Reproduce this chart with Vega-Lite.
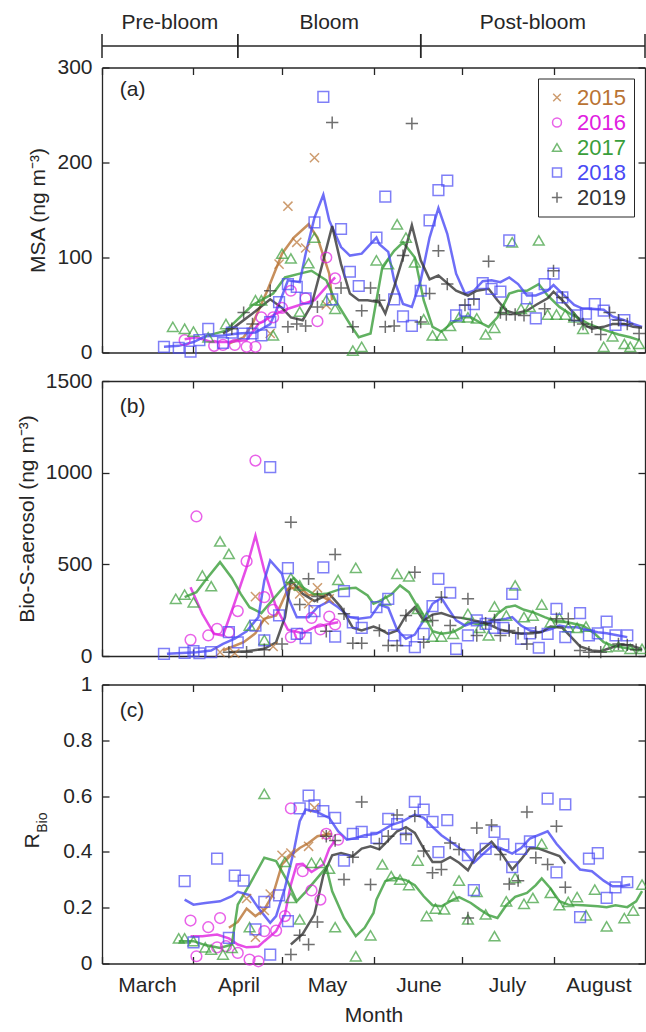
{
  "$schema": "https://vega.github.io/schema/vega-lite/v6.json",
  "background": "white",
  "padding": {"left": 16, "top": 5, "right": 1, "bottom": 3},
  "bounds": "flush",
  "spacing": 28.5,
  "config": {
    "font": "Liberation Sans",
    "view": {"stroke": null},
    "axis": {
      "grid": false,
      "domainColor": "#262626",
      "domainWidth": 1.3,
      "tickColor": "#262626",
      "tickWidth": 1.3,
      "tickSize": -7,
      "labelFont": "Liberation Sans",
      "labelFontSize": 21,
      "labelColor": "#262626",
      "labelPadding": 17,
      "titleFont": "Liberation Sans",
      "titleFontSize": 21,
      "titleFontWeight": "normal",
      "titleColor": "#262626",
      "titlePadding": 8
    },
    "text": {"font": "Liberation Sans", "color": "#262626"}
  },
  "resolve": {
    "scale": {"x": "independent", "y": "independent", "color": "shared", "shape": "shared", "stroke": "shared"},
    "legend": {"color": "independent", "shape": "independent"}
  },
  "datasets": {
    "msa_obs": [
      {"year":2015,"date":"2015/04/27","value":20},{"year":2015,"date":"2015/04/30","value":93},{"year":2015,"date":"2015/05/03","value":154},{"year":2015,"date":"2015/05/06","value":116},{"year":2015,"date":"2015/05/09","value":110},{"year":2015,"date":"2015/05/12","value":205},{"year":2015,"date":"2015/05/16","value":50},
      {"year":2016,"date":"2016/03/29","value":13},{"year":2016,"date":"2016/04/08","value":7},{"year":2016,"date":"2016/04/11","value":8},{"year":2016,"date":"2016/04/15","value":8},{"year":2016,"date":"2016/04/19","value":6},{"year":2016,"date":"2016/04/22","value":6},{"year":2016,"date":"2016/04/24","value":37},{"year":2016,"date":"2016/04/28","value":37},{"year":2016,"date":"2016/05/01","value":47},{"year":2016,"date":"2016/05/04","value":65},{"year":2016,"date":"2016/05/09","value":57},{"year":2016,"date":"2016/05/13","value":33},{"year":2016,"date":"2016/05/16","value":100},{"year":2016,"date":"2016/05/19","value":78},
      {"year":2017,"date":"2017/03/25","value":27},{"year":2017,"date":"2017/03/29","value":25},{"year":2017,"date":"2017/04/01","value":22},{"year":2017,"date":"2017/04/06","value":16},{"year":2017,"date":"2017/04/12","value":30},{"year":2017,"date":"2017/04/22","value":55},{"year":2017,"date":"2017/04/24","value":55},{"year":2017,"date":"2017/04/28","value":18},{"year":2017,"date":"2017/05/01","value":104},{"year":2017,"date":"2017/05/04","value":99},{"year":2017,"date":"2017/05/07","value":43},{"year":2017,"date":"2017/05/10","value":94},{"year":2017,"date":"2017/05/12","value":121},{"year":2017,"date":"2017/05/16","value":55},{"year":2017,"date":"2017/05/19","value":46},{"year":2017,"date":"2017/05/25","value":2},{"year":2017,"date":"2017/05/28","value":6},{"year":2017,"date":"2017/06/02","value":97},{"year":2017,"date":"2017/06/06","value":93},{"year":2017,"date":"2017/06/09","value":135},{"year":2017,"date":"2017/06/12","value":121},{"year":2017,"date":"2017/06/15","value":95},{"year":2017,"date":"2017/06/18","value":35},{"year":2017,"date":"2017/06/21","value":18},{"year":2017,"date":"2017/06/24","value":18},{"year":2017,"date":"2017/06/27","value":28},{"year":2017,"date":"2017/06/30","value":37},{"year":2017,"date":"2017/07/03","value":37},{"year":2017,"date":"2017/07/06","value":36},{"year":2017,"date":"2017/07/09","value":19},{"year":2017,"date":"2017/07/12","value":26},{"year":2017,"date":"2017/07/15","value":46},{"year":2017,"date":"2017/07/18","value":116},{"year":2017,"date":"2017/07/21","value":46},{"year":2017,"date":"2017/07/24","value":48},{"year":2017,"date":"2017/07/27","value":118},{"year":2017,"date":"2017/07/30","value":40},{"year":2017,"date":"2017/08/02","value":40},{"year":2017,"date":"2017/08/05","value":40},{"year":2017,"date":"2017/08/08","value":37},{"year":2017,"date":"2017/08/11","value":25},{"year":2017,"date":"2017/08/18","value":6},{"year":2017,"date":"2017/08/21","value":17},{"year":2017,"date":"2017/08/25","value":9},{"year":2017,"date":"2017/08/27","value":6},{"year":2017,"date":"2017/08/30","value":9},
      {"year":2018,"date":"2018/03/22","value":6},{"year":2018,"date":"2018/03/27","value":5},{"year":2018,"date":"2018/03/31","value":1},{"year":2018,"date":"2018/04/03","value":13},{"year":2018,"date":"2018/04/06","value":25},{"year":2018,"date":"2018/04/11","value":10},{"year":2018,"date":"2018/04/14","value":21},{"year":2018,"date":"2018/04/18","value":20},{"year":2018,"date":"2018/04/21","value":20},{"year":2018,"date":"2018/04/24","value":18},{"year":2018,"date":"2018/04/27","value":32},{"year":2018,"date":"2018/04/30","value":53},{"year":2018,"date":"2018/05/03","value":72},{"year":2018,"date":"2018/05/06","value":69},{"year":2018,"date":"2018/05/09","value":57},{"year":2018,"date":"2018/05/12","value":137},{"year":2018,"date":"2018/05/15","value":269},{"year":2018,"date":"2018/05/18","value":56},{"year":2018,"date":"2018/05/21","value":130},{"year":2018,"date":"2018/05/24","value":85},{"year":2018,"date":"2018/05/27","value":70},{"year":2018,"date":"2018/06/02","value":121},{"year":2018,"date":"2018/06/05","value":164},{"year":2018,"date":"2018/06/08","value":56},{"year":2018,"date":"2018/06/11","value":38},{"year":2018,"date":"2018/06/14","value":28},{"year":2018,"date":"2018/06/17","value":65},{"year":2018,"date":"2018/06/20","value":139},{"year":2018,"date":"2018/06/23","value":171},{"year":2018,"date":"2018/06/26","value":181},{"year":2018,"date":"2018/06/29","value":39},{"year":2018,"date":"2018/07/02","value":44},{"year":2018,"date":"2018/07/05","value":51},{"year":2018,"date":"2018/07/08","value":73},{"year":2018,"date":"2018/07/11","value":67},{"year":2018,"date":"2018/07/14","value":64},{"year":2018,"date":"2018/07/17","value":118},{"year":2018,"date":"2018/07/23","value":57},{"year":2018,"date":"2018/07/26","value":36},{"year":2018,"date":"2018/07/29","value":72},{"year":2018,"date":"2018/08/01","value":83},{"year":2018,"date":"2018/08/04","value":58},{"year":2018,"date":"2018/08/09","value":39},{"year":2018,"date":"2018/08/12","value":41},{"year":2018,"date":"2018/08/15","value":51},{"year":2018,"date":"2018/08/18","value":44},{"year":2018,"date":"2018/08/22","value":29},{"year":2018,"date":"2018/08/25","value":34},
      {"year":2019,"date":"2019/04/14","value":25},{"year":2019,"date":"2019/04/18","value":42},{"year":2019,"date":"2019/04/21","value":30},{"year":2019,"date":"2019/04/27","value":65},{"year":2019,"date":"2019/05/03","value":27},{"year":2019,"date":"2019/05/06","value":30},{"year":2019,"date":"2019/05/09","value":28},{"year":2019,"date":"2019/05/13","value":48},{"year":2019,"date":"2019/05/18","value":242},{"year":2019,"date":"2019/05/21","value":68},{"year":2019,"date":"2019/05/25","value":27},{"year":2019,"date":"2019/05/28","value":44},{"year":2019,"date":"2019/05/31","value":68},{"year":2019,"date":"2019/06/03","value":55},{"year":2019,"date":"2019/06/05","value":27},{"year":2019,"date":"2019/06/08","value":28},{"year":2019,"date":"2019/06/11","value":102},{"year":2019,"date":"2019/06/14","value":241},{"year":2019,"date":"2019/06/17","value":32},{"year":2019,"date":"2019/06/20","value":62},{"year":2019,"date":"2019/06/23","value":107},{"year":2019,"date":"2019/06/26","value":72},{"year":2019,"date":"2019/07/02","value":50},{"year":2019,"date":"2019/07/05","value":56},{"year":2019,"date":"2019/07/10","value":96},{"year":2019,"date":"2019/07/14","value":42},{"year":2019,"date":"2019/07/16","value":40},{"year":2019,"date":"2019/07/19","value":40},{"year":2019,"date":"2019/07/22","value":39},{"year":2019,"date":"2019/07/29","value":46},{"year":2019,"date":"2019/08/01","value":86},{"year":2019,"date":"2019/08/04","value":58},{"year":2019,"date":"2019/08/08","value":34},{"year":2019,"date":"2019/08/11","value":30},{"year":2019,"date":"2019/08/14","value":27},{"year":2019,"date":"2019/08/17","value":19},{"year":2019,"date":"2019/08/20","value":42},{"year":2019,"date":"2019/08/23","value":34},{"year":2019,"date":"2019/08/26","value":30},{"year":2019,"date":"2019/08/30","value":20}
    ],
    "msa_mean": [
      {"year":2015,"date":"2015/04/13","value":9.5},{"year":2015,"date":"2015/04/18","value":16},{"year":2015,"date":"2015/04/21","value":30},{"year":2015,"date":"2015/04/26","value":65},{"year":2015,"date":"2015/05/01","value":104},{"year":2015,"date":"2015/05/05","value":121},{"year":2015,"date":"2015/05/10","value":135},{"year":2015,"date":"2015/05/13","value":121},{"year":2015,"date":"2015/05/17","value":83},{"year":2015,"date":"2015/05/18","value":55},
      {"year":2016,"date":"2016/03/29","value":14},{"year":2016,"date":"2016/04/02","value":16},{"year":2016,"date":"2016/04/07","value":11},{"year":2016,"date":"2016/04/13","value":11},{"year":2016,"date":"2016/04/19","value":13},{"year":2016,"date":"2016/04/23","value":30},{"year":2016,"date":"2016/04/29","value":41},{"year":2016,"date":"2016/05/03","value":46},{"year":2016,"date":"2016/05/08","value":51},{"year":2016,"date":"2016/05/12","value":55},{"year":2016,"date":"2016/05/16","value":69},{"year":2016,"date":"2016/05/19","value":79},
      {"year":2017,"date":"2017/04/06","value":18},{"year":2017,"date":"2017/04/12","value":23},{"year":2017,"date":"2017/04/21","value":50},{"year":2017,"date":"2017/04/28","value":62},{"year":2017,"date":"2017/05/02","value":79},{"year":2017,"date":"2017/05/07","value":83},{"year":2017,"date":"2017/05/11","value":86},{"year":2017,"date":"2017/05/16","value":76},{"year":2017,"date":"2017/05/19","value":55},{"year":2017,"date":"2017/05/24","value":30},{"year":2017,"date":"2017/05/27","value":16},{"year":2017,"date":"2017/05/31","value":20},{"year":2017,"date":"2017/06/04","value":90},{"year":2017,"date":"2017/06/08","value":107},{"year":2017,"date":"2017/06/11","value":116},{"year":2017,"date":"2017/06/15","value":100},{"year":2017,"date":"2017/06/18","value":55},{"year":2017,"date":"2017/06/21","value":27},{"year":2017,"date":"2017/06/24","value":22},{"year":2017,"date":"2017/06/28","value":32},{"year":2017,"date":"2017/07/01","value":37},{"year":2017,"date":"2017/07/04","value":37},{"year":2017,"date":"2017/07/08","value":30},{"year":2017,"date":"2017/07/10","value":27},{"year":2017,"date":"2017/07/13","value":37},{"year":2017,"date":"2017/07/17","value":62},{"year":2017,"date":"2017/07/20","value":65},{"year":2017,"date":"2017/07/23","value":65},{"year":2017,"date":"2017/07/27","value":72},{"year":2017,"date":"2017/07/30","value":60},{"year":2017,"date":"2017/08/03","value":48},{"year":2017,"date":"2017/08/06","value":42},{"year":2017,"date":"2017/08/09","value":37},{"year":2017,"date":"2017/08/13","value":30},{"year":2017,"date":"2017/08/17","value":25},{"year":2017,"date":"2017/08/20","value":22},{"year":2017,"date":"2017/08/23","value":19},{"year":2017,"date":"2017/08/27","value":16},{"year":2017,"date":"2017/08/30","value":13},
      {"year":2018,"date":"2018/03/22","value":6},{"year":2018,"date":"2018/03/27","value":7},{"year":2018,"date":"2018/04/01","value":11},{"year":2018,"date":"2018/04/05","value":17},{"year":2018,"date":"2018/04/11","value":18},{"year":2018,"date":"2018/04/16","value":20},{"year":2018,"date":"2018/04/22","value":21},{"year":2018,"date":"2018/04/27","value":30},{"year":2018,"date":"2018/04/30","value":51},{"year":2018,"date":"2018/05/03","value":76},{"year":2018,"date":"2018/05/07","value":74},{"year":2018,"date":"2018/05/09","value":104},{"year":2018,"date":"2018/05/12","value":142},{"year":2018,"date":"2018/05/15","value":166},{"year":2018,"date":"2018/05/17","value":139},{"year":2018,"date":"2018/05/21","value":111},{"year":2018,"date":"2018/05/24","value":102},{"year":2018,"date":"2018/05/28","value":104},{"year":2018,"date":"2018/06/02","value":121},{"year":2018,"date":"2018/06/03","value":114},{"year":2018,"date":"2018/06/06","value":106},{"year":2018,"date":"2018/06/08","value":76},{"year":2018,"date":"2018/06/11","value":51},{"year":2018,"date":"2018/06/14","value":48},{"year":2018,"date":"2018/06/17","value":76},{"year":2018,"date":"2018/06/20","value":121},{"year":2018,"date":"2018/06/23","value":152},{"year":2018,"date":"2018/06/26","value":125},{"year":2018,"date":"2018/06/29","value":83},{"year":2018,"date":"2018/07/02","value":62},{"year":2018,"date":"2018/07/05","value":65},{"year":2018,"date":"2018/07/08","value":75},{"year":2018,"date":"2018/07/11","value":76},{"year":2018,"date":"2018/07/14","value":74},{"year":2018,"date":"2018/07/17","value":79},{"year":2018,"date":"2018/07/20","value":72},{"year":2018,"date":"2018/07/23","value":60},{"year":2018,"date":"2018/07/26","value":60},{"year":2018,"date":"2018/07/30","value":65},{"year":2018,"date":"2018/08/01","value":71},{"year":2018,"date":"2018/08/04","value":62},{"year":2018,"date":"2018/08/08","value":50},{"year":2018,"date":"2018/08/11","value":46},{"year":2018,"date":"2018/08/14","value":46},{"year":2018,"date":"2018/08/18","value":45},{"year":2018,"date":"2018/08/21","value":38},{"year":2018,"date":"2018/08/25","value":34},{"year":2018,"date":"2018/08/28","value":30},{"year":2018,"date":"2018/08/31","value":27},
      {"year":2019,"date":"2019/04/11","value":20},{"year":2019,"date":"2019/04/15","value":27},{"year":2019,"date":"2019/04/21","value":41},{"year":2019,"date":"2019/04/27","value":56},{"year":2019,"date":"2019/05/01","value":47},{"year":2019,"date":"2019/05/04","value":37},{"year":2019,"date":"2019/05/08","value":34},{"year":2019,"date":"2019/05/11","value":50},{"year":2019,"date":"2019/05/15","value":97},{"year":2019,"date":"2019/05/18","value":133},{"year":2019,"date":"2019/05/21","value":93},{"year":2019,"date":"2019/05/24","value":62},{"year":2019,"date":"2019/05/27","value":55},{"year":2019,"date":"2019/05/30","value":55},{"year":2019,"date":"2019/06/03","value":53},{"year":2019,"date":"2019/06/05","value":41},{"year":2019,"date":"2019/06/08","value":69},{"year":2019,"date":"2019/06/11","value":100},{"year":2019,"date":"2019/06/14","value":134},{"year":2019,"date":"2019/06/17","value":97},{"year":2019,"date":"2019/06/20","value":77},{"year":2019,"date":"2019/06/23","value":81},{"year":2019,"date":"2019/06/26","value":73},{"year":2019,"date":"2019/06/29","value":65},{"year":2019,"date":"2019/07/03","value":60},{"year":2019,"date":"2019/07/06","value":65},{"year":2019,"date":"2019/07/10","value":67},{"year":2019,"date":"2019/07/13","value":55},{"year":2019,"date":"2019/07/16","value":44},{"year":2019,"date":"2019/07/19","value":41},{"year":2019,"date":"2019/07/23","value":44},{"year":2019,"date":"2019/07/26","value":50},{"year":2019,"date":"2019/07/30","value":57},{"year":2019,"date":"2019/08/01","value":64},{"year":2019,"date":"2019/08/04","value":55},{"year":2019,"date":"2019/08/08","value":41},{"year":2019,"date":"2019/08/11","value":30},{"year":2019,"date":"2019/08/14","value":25},{"year":2019,"date":"2019/08/18","value":27},{"year":2019,"date":"2019/08/21","value":30},{"year":2019,"date":"2019/08/25","value":30},{"year":2019,"date":"2019/08/28","value":27},{"year":2019,"date":"2019/08/31","value":26}
    ],
    "bio_obs": [
      {"year":2015,"date":"2015/04/10","value":21},{"year":2015,"date":"2015/04/15","value":15},{"year":2015,"date":"2015/04/22","value":324},{"year":2015,"date":"2015/04/25","value":197},{"year":2015,"date":"2015/04/28","value":52},{"year":2015,"date":"2015/05/04","value":379},{"year":2015,"date":"2015/05/07","value":339},{"year":2015,"date":"2015/05/10","value":285},{"year":2015,"date":"2015/05/13","value":372},{"year":2015,"date":"2015/05/17","value":312},
      {"year":2016,"date":"2016/03/31","value":88},{"year":2016,"date":"2016/04/02","value":761},{"year":2016,"date":"2016/04/06","value":112},{"year":2016,"date":"2016/04/09","value":148},{"year":2016,"date":"2016/04/13","value":130},{"year":2016,"date":"2016/04/16","value":245},{"year":2016,"date":"2016/04/19","value":517},{"year":2016,"date":"2016/04/22","value":1066},{"year":2016,"date":"2016/04/25","value":321},{"year":2016,"date":"2016/04/28","value":252},{"year":2016,"date":"2016/05/04","value":103},{"year":2016,"date":"2016/05/07","value":121},{"year":2016,"date":"2016/05/11","value":208},{"year":2016,"date":"2016/05/14","value":145},{"year":2016,"date":"2016/05/17","value":215},{"year":2016,"date":"2016/05/19","value":172},
      {"year":2017,"date":"2017/03/26","value":312},{"year":2017,"date":"2017/03/29","value":335},{"year":2017,"date":"2017/04/01","value":293},{"year":2017,"date":"2017/04/04","value":439},{"year":2017,"date":"2017/04/07","value":381},{"year":2017,"date":"2017/04/10","value":625},{"year":2017,"date":"2017/04/13","value":557},{"year":2017,"date":"2017/04/20","value":166},{"year":2017,"date":"2017/04/25","value":88},{"year":2017,"date":"2017/05/04","value":426},{"year":2017,"date":"2017/05/07","value":385},{"year":2017,"date":"2017/05/20","value":415},{"year":2017,"date":"2017/05/26","value":481},{"year":2017,"date":"2017/06/05","value":303},{"year":2017,"date":"2017/06/09","value":448},{"year":2017,"date":"2017/06/13","value":434},{"year":2017,"date":"2017/06/16","value":257},{"year":2017,"date":"2017/06/19","value":212},{"year":2017,"date":"2017/06/21","value":106},{"year":2017,"date":"2017/06/24","value":106},{"year":2017,"date":"2017/06/28","value":121},{"year":2017,"date":"2017/07/03","value":230},{"year":2017,"date":"2017/07/07","value":154},{"year":2017,"date":"2017/07/10","value":112},{"year":2017,"date":"2017/07/12","value":270},{"year":2017,"date":"2017/07/16","value":221},{"year":2017,"date":"2017/07/19","value":385},{"year":2017,"date":"2017/07/22","value":212},{"year":2017,"date":"2017/07/25","value":221},{"year":2017,"date":"2017/07/28","value":281},{"year":2017,"date":"2017/07/31","value":184},{"year":2017,"date":"2017/08/03","value":208},{"year":2017,"date":"2017/08/06","value":157},{"year":2017,"date":"2017/08/09","value":154},{"year":2017,"date":"2017/08/12","value":161},{"year":2017,"date":"2017/08/19","value":48},{"year":2017,"date":"2017/08/23","value":52},{"year":2017,"date":"2017/08/27","value":39},{"year":2017,"date":"2017/08/31","value":39},
      {"year":2018,"date":"2018/03/22","value":12},{"year":2018,"date":"2018/03/29","value":17},{"year":2018,"date":"2018/04/01","value":26},{"year":2018,"date":"2018/04/03","value":15},{"year":2018,"date":"2018/04/07","value":21},{"year":2018,"date":"2018/04/13","value":130},{"year":2018,"date":"2018/04/16","value":74},{"year":2018,"date":"2018/04/22","value":166},{"year":2018,"date":"2018/04/25","value":85},{"year":2018,"date":"2018/04/27","value":1030},{"year":2018,"date":"2018/04/30","value":221},{"year":2018,"date":"2018/05/03","value":479},{"year":2018,"date":"2018/05/06","value":121},{"year":2018,"date":"2018/05/09","value":97},{"year":2018,"date":"2018/05/12","value":245},{"year":2018,"date":"2018/05/15","value":484},{"year":2018,"date":"2018/05/19","value":106},{"year":2018,"date":"2018/05/22","value":354},{"year":2018,"date":"2018/05/25","value":184},{"year":2018,"date":"2018/05/28","value":154},{"year":2018,"date":"2018/06/02","value":266},{"year":2018,"date":"2018/06/06","value":312},{"year":2018,"date":"2018/06/08","value":112},{"year":2018,"date":"2018/06/12","value":85},{"year":2018,"date":"2018/06/15","value":48},{"year":2018,"date":"2018/06/18","value":121},{"year":2018,"date":"2018/06/21","value":272},{"year":2018,"date":"2018/06/23","value":421},{"year":2018,"date":"2018/06/27","value":345},{"year":2018,"date":"2018/06/29","value":39},{"year":2018,"date":"2018/07/03","value":112},{"year":2018,"date":"2018/07/06","value":194},{"year":2018,"date":"2018/07/09","value":175},{"year":2018,"date":"2018/07/12","value":154},{"year":2018,"date":"2018/07/15","value":154},{"year":2018,"date":"2018/07/18","value":339},{"year":2018,"date":"2018/07/21","value":94},{"year":2018,"date":"2018/07/24","value":124},{"year":2018,"date":"2018/07/27","value":45},{"year":2018,"date":"2018/07/30","value":121},{"year":2018,"date":"2018/08/02","value":257},{"year":2018,"date":"2018/08/05","value":103},{"year":2018,"date":"2018/08/10","value":234},{"year":2018,"date":"2018/08/13","value":112},{"year":2018,"date":"2018/08/16","value":124},{"year":2018,"date":"2018/08/19","value":188},{"year":2018,"date":"2018/08/22","value":112},{"year":2018,"date":"2018/08/26","value":112},
      {"year":2019,"date":"2019/04/13","value":21},{"year":2019,"date":"2019/04/19","value":21},{"year":2019,"date":"2019/04/25","value":34},{"year":2019,"date":"2019/05/01","value":66},{"year":2019,"date":"2019/05/04","value":730},{"year":2019,"date":"2019/05/07","value":281},{"year":2019,"date":"2019/05/10","value":421},{"year":2019,"date":"2019/05/13","value":324},{"year":2019,"date":"2019/05/16","value":135},{"year":2019,"date":"2019/05/19","value":554},{"year":2019,"date":"2019/05/22","value":230},{"year":2019,"date":"2019/05/25","value":70},{"year":2019,"date":"2019/05/28","value":70},{"year":2019,"date":"2019/06/03","value":139},{"year":2019,"date":"2019/06/06","value":57},{"year":2019,"date":"2019/06/09","value":57},{"year":2019,"date":"2019/06/12","value":221},{"year":2019,"date":"2019/06/15","value":457},{"year":2019,"date":"2019/06/18","value":75},{"year":2019,"date":"2019/06/21","value":194},{"year":2019,"date":"2019/06/24","value":321},{"year":2019,"date":"2019/06/27","value":166},{"year":2019,"date":"2019/07/03","value":312},{"year":2019,"date":"2019/07/06","value":112},{"year":2019,"date":"2019/07/09","value":179},{"year":2019,"date":"2019/07/12","value":197},{"year":2019,"date":"2019/07/14","value":112},{"year":2019,"date":"2019/07/17","value":139},{"year":2019,"date":"2019/07/20","value":124},{"year":2019,"date":"2019/07/23","value":66},{"year":2019,"date":"2019/07/26","value":130},{"year":2019,"date":"2019/08/02","value":203},{"year":2019,"date":"2019/08/06","value":203},{"year":2019,"date":"2019/08/10","value":30},{"year":2019,"date":"2019/08/13","value":21},{"year":2019,"date":"2019/08/17","value":21},{"year":2019,"date":"2019/08/23","value":66},{"year":2019,"date":"2019/08/26","value":61},{"year":2019,"date":"2019/08/29","value":34}
    ],
    "bio_mean": [
      {"year":2015,"date":"2015/04/11","value":30},{"year":2015,"date":"2015/04/18","value":75},{"year":2015,"date":"2015/04/22","value":124},{"year":2015,"date":"2015/04/25","value":203},{"year":2015,"date":"2015/04/29","value":221},{"year":2015,"date":"2015/05/03","value":366},{"year":2015,"date":"2015/05/07","value":379},{"year":2015,"date":"2015/05/10","value":330},{"year":2015,"date":"2015/05/13","value":339},{"year":2015,"date":"2015/05/17","value":303},
      {"year":2016,"date":"2016/03/31","value":375},{"year":2016,"date":"2016/04/04","value":230},{"year":2016,"date":"2016/04/08","value":121},{"year":2016,"date":"2016/04/11","value":112},{"year":2016,"date":"2016/04/15","value":293},{"year":2016,"date":"2016/04/19","value":484},{"year":2016,"date":"2016/04/22","value":657},{"year":2016,"date":"2016/04/25","value":466},{"year":2016,"date":"2016/04/29","value":266},{"year":2016,"date":"2016/05/03","value":143},{"year":2016,"date":"2016/05/08","value":124},{"year":2016,"date":"2016/05/12","value":157},{"year":2016,"date":"2016/05/17","value":175},{"year":2016,"date":"2016/05/20","value":184},
      {"year":2017,"date":"2017/03/29","value":321},{"year":2017,"date":"2017/04/02","value":348},{"year":2017,"date":"2017/04/05","value":412},{"year":2017,"date":"2017/04/10","value":512},{"year":2017,"date":"2017/04/14","value":426},{"year":2017,"date":"2017/04/17","value":339},{"year":2017,"date":"2017/04/20","value":266},{"year":2017,"date":"2017/04/24","value":234},{"year":2017,"date":"2017/05/01","value":366},{"year":2017,"date":"2017/05/05","value":426},{"year":2017,"date":"2017/05/08","value":375},{"year":2017,"date":"2017/05/12","value":335},{"year":2017,"date":"2017/05/16","value":339},{"year":2017,"date":"2017/05/21","value":366},{"year":2017,"date":"2017/05/26","value":372},{"year":2017,"date":"2017/05/30","value":330},{"year":2017,"date":"2017/06/01","value":285},{"year":2017,"date":"2017/06/03","value":299},{"year":2017,"date":"2017/06/07","value":335},{"year":2017,"date":"2017/06/10","value":385},{"year":2017,"date":"2017/06/13","value":348},{"year":2017,"date":"2017/06/16","value":266},{"year":2017,"date":"2017/06/19","value":194},{"year":2017,"date":"2017/06/21","value":135},{"year":2017,"date":"2017/06/24","value":121},{"year":2017,"date":"2017/06/28","value":130},{"year":2017,"date":"2017/07/01","value":157},{"year":2017,"date":"2017/07/03","value":184},{"year":2017,"date":"2017/07/07","value":172},{"year":2017,"date":"2017/07/10","value":172},{"year":2017,"date":"2017/07/13","value":230},{"year":2017,"date":"2017/07/16","value":266},{"year":2017,"date":"2017/07/19","value":275},{"year":2017,"date":"2017/07/22","value":252},{"year":2017,"date":"2017/07/25","value":239},{"year":2017,"date":"2017/07/29","value":212},{"year":2017,"date":"2017/08/01","value":194},{"year":2017,"date":"2017/08/04","value":190},{"year":2017,"date":"2017/08/08","value":176},{"year":2017,"date":"2017/08/11","value":165},{"year":2017,"date":"2017/08/15","value":121},{"year":2017,"date":"2017/08/18","value":75},{"year":2017,"date":"2017/08/21","value":57},{"year":2017,"date":"2017/08/25","value":45},{"year":2017,"date":"2017/08/28","value":37},{"year":2017,"date":"2017/08/31","value":30},
      {"year":2018,"date":"2018/03/23","value":12},{"year":2018,"date":"2018/03/28","value":17},{"year":2018,"date":"2018/04/02","value":21},{"year":2018,"date":"2018/04/07","value":30},{"year":2018,"date":"2018/04/11","value":66},{"year":2018,"date":"2018/04/15","value":94},{"year":2018,"date":"2018/04/19","value":135},{"year":2018,"date":"2018/04/23","value":212},{"year":2018,"date":"2018/04/25","value":412},{"year":2018,"date":"2018/04/27","value":521},{"year":2018,"date":"2018/05/01","value":448},{"year":2018,"date":"2018/05/03","value":321},{"year":2018,"date":"2018/05/06","value":212},{"year":2018,"date":"2018/05/10","value":212},{"year":2018,"date":"2018/05/13","value":266},{"year":2018,"date":"2018/05/17","value":299},{"year":2018,"date":"2018/05/20","value":266},{"year":2018,"date":"2018/05/24","value":212},{"year":2018,"date":"2018/05/27","value":203},{"year":2018,"date":"2018/05/31","value":212},{"year":2018,"date":"2018/06/03","value":281},{"year":2018,"date":"2018/06/06","value":263},{"year":2018,"date":"2018/06/09","value":143},{"year":2018,"date":"2018/06/12","value":94},{"year":2018,"date":"2018/06/15","value":117},{"year":2018,"date":"2018/06/18","value":194},{"year":2018,"date":"2018/06/21","value":285},{"year":2018,"date":"2018/06/24","value":317},{"year":2018,"date":"2018/06/26","value":266},{"year":2018,"date":"2018/06/29","value":194},{"year":2018,"date":"2018/07/02","value":166},{"year":2018,"date":"2018/07/05","value":184},{"year":2018,"date":"2018/07/09","value":184},{"year":2018,"date":"2018/07/12","value":194},{"year":2018,"date":"2018/07/16","value":203},{"year":2018,"date":"2018/07/18","value":212},{"year":2018,"date":"2018/07/21","value":166},{"year":2018,"date":"2018/07/24","value":139},{"year":2018,"date":"2018/07/27","value":130},{"year":2018,"date":"2018/07/31","value":146},{"year":2018,"date":"2018/08/03","value":166},{"year":2018,"date":"2018/08/06","value":157},{"year":2018,"date":"2018/08/09","value":157},{"year":2018,"date":"2018/08/13","value":139},{"year":2018,"date":"2018/08/16","value":130},{"year":2018,"date":"2018/08/19","value":124},{"year":2018,"date":"2018/08/23","value":112},{"year":2018,"date":"2018/08/26","value":103},
      {"year":2019,"date":"2019/04/13","value":21},{"year":2019,"date":"2019/04/19","value":26},{"year":2019,"date":"2019/04/25","value":39},{"year":2019,"date":"2019/04/29","value":75},{"year":2019,"date":"2019/05/02","value":212},{"year":2019,"date":"2019/05/04","value":412},{"year":2019,"date":"2019/05/08","value":339},{"year":2019,"date":"2019/05/12","value":299},{"year":2019,"date":"2019/05/17","value":339},{"year":2019,"date":"2019/05/21","value":266},{"year":2019,"date":"2019/05/25","value":154},{"year":2019,"date":"2019/05/28","value":139},{"year":2019,"date":"2019/06/01","value":161},{"year":2019,"date":"2019/06/03","value":148},{"year":2019,"date":"2019/06/06","value":121},{"year":2019,"date":"2019/06/09","value":139},{"year":2019,"date":"2019/06/12","value":221},{"year":2019,"date":"2019/06/15","value":266},{"year":2019,"date":"2019/06/18","value":194},{"year":2019,"date":"2019/06/21","value":226},{"year":2019,"date":"2019/06/24","value":234},{"year":2019,"date":"2019/06/28","value":212},{"year":2019,"date":"2019/07/01","value":208},{"year":2019,"date":"2019/07/04","value":197},{"year":2019,"date":"2019/07/08","value":184},{"year":2019,"date":"2019/07/11","value":166},{"year":2019,"date":"2019/07/14","value":143},{"year":2019,"date":"2019/07/18","value":130},{"year":2019,"date":"2019/07/21","value":121},{"year":2019,"date":"2019/07/25","value":124},{"year":2019,"date":"2019/07/28","value":130},{"year":2019,"date":"2019/07/31","value":161},{"year":2019,"date":"2019/08/04","value":154},{"year":2019,"date":"2019/08/07","value":103},{"year":2019,"date":"2019/08/10","value":52},{"year":2019,"date":"2019/08/14","value":30},{"year":2019,"date":"2019/08/17","value":26},{"year":2019,"date":"2019/08/21","value":48},{"year":2019,"date":"2019/08/24","value":63},{"year":2019,"date":"2019/08/27","value":57},{"year":2019,"date":"2019/08/31","value":39}
    ],
    "rbio_obs": [
      {"year":2015,"date":"2015/04/19","value":0.233},{"year":2015,"date":"2015/04/22","value":0.094},{"year":2015,"date":"2015/04/25","value":0.19},{"year":2015,"date":"2015/04/27","value":0.249},{"year":2015,"date":"2015/05/01","value":0.388},{"year":2015,"date":"2015/05/04","value":0.396},{"year":2015,"date":"2015/05/10","value":0.42},{"year":2015,"date":"2015/05/12","value":0.558},{"year":2015,"date":"2015/05/16","value":0.462},
      {"year":2016,"date":"2016/03/31","value":0.154},{"year":2016,"date":"2016/04/02","value":0.026},{"year":2016,"date":"2016/04/06","value":0.13},{"year":2016,"date":"2016/04/09","value":0.058},{"year":2016,"date":"2016/04/10","value":0.163},{"year":2016,"date":"2016/04/12","value":0.062},{"year":2016,"date":"2016/04/16","value":0.038},{"year":2016,"date":"2016/04/20","value":0.014},{"year":2016,"date":"2016/04/23","value":0.008},{"year":2016,"date":"2016/04/25","value":0.116},{"year":2016,"date":"2016/04/29","value":0.118},{"year":2016,"date":"2016/05/02","value":0.17},{"year":2016,"date":"2016/05/04","value":0.556},{"year":2016,"date":"2016/05/08","value":0.331},{"year":2016,"date":"2016/05/11","value":0.262},{"year":2016,"date":"2016/05/14","value":0.229},{"year":2016,"date":"2016/05/16","value":0.465},{"year":2016,"date":"2016/05/20","value":0.444},
      {"year":2017,"date":"2017/03/27","value":0.09},{"year":2017,"date":"2017/03/29","value":0.09},{"year":2017,"date":"2017/04/01","value":0.08},{"year":2017,"date":"2017/04/05","value":0.058},{"year":2017,"date":"2017/04/07","value":0.05},{"year":2017,"date":"2017/04/11","value":0.032},{"year":2017,"date":"2017/04/14","value":0.056},{"year":2017,"date":"2017/04/20","value":0.13},{"year":2017,"date":"2017/04/25","value":0.608},{"year":2017,"date":"2017/05/02","value":0.364},{"year":2017,"date":"2017/05/04","value":0.235},{"year":2017,"date":"2017/05/07","value":0.158},{"year":2017,"date":"2017/05/11","value":0.361},{"year":2017,"date":"2017/05/14","value":0.361},{"year":2017,"date":"2017/05/17","value":0.34},{"year":2017,"date":"2017/05/19","value":0.13},{"year":2017,"date":"2017/05/26","value":0.026},{"year":2017,"date":"2017/05/31","value":0.101},{"year":2017,"date":"2017/06/04","value":0.355},{"year":2017,"date":"2017/06/07","value":0.313},{"year":2017,"date":"2017/06/10","value":0.301},{"year":2017,"date":"2017/06/13","value":0.281},{"year":2017,"date":"2017/06/16","value":0.369},{"year":2017,"date":"2017/06/19","value":0.17},{"year":2017,"date":"2017/06/22","value":0.197},{"year":2017,"date":"2017/06/25","value":0.194},{"year":2017,"date":"2017/06/28","value":0.241},{"year":2017,"date":"2017/06/30","value":0.297},{"year":2017,"date":"2017/07/03","value":0.158},{"year":2017,"date":"2017/07/06","value":0.257},{"year":2017,"date":"2017/07/09","value":0.176},{"year":2017,"date":"2017/07/12","value":0.098},{"year":2017,"date":"2017/07/16","value":0.223},{"year":2017,"date":"2017/07/19","value":0.307},{"year":2017,"date":"2017/07/22","value":0.214},{"year":2017,"date":"2017/07/25","value":0.235},{"year":2017,"date":"2017/07/28","value":0.429},{"year":2017,"date":"2017/07/31","value":0.253},{"year":2017,"date":"2017/08/03","value":0.209},{"year":2017,"date":"2017/08/06","value":0.221},{"year":2017,"date":"2017/08/09","value":0.238},{"year":2017,"date":"2017/08/12","value":0.173},{"year":2017,"date":"2017/08/15","value":0.265},{"year":2017,"date":"2017/08/19","value":0.133},{"year":2017,"date":"2017/08/25","value":0.163},{"year":2017,"date":"2017/08/28","value":0.19},{"year":2017,"date":"2017/08/31","value":0.283},
      {"year":2018,"date":"2018/03/29","value":0.295},{"year":2018,"date":"2018/04/01","value":0.076},{"year":2018,"date":"2018/04/09","value":0.376},{"year":2018,"date":"2018/04/13","value":0.092},{"year":2018,"date":"2018/04/15","value":0.315},{"year":2018,"date":"2018/04/18","value":0.297},{"year":2018,"date":"2018/04/22","value":0.122},{"year":2018,"date":"2018/04/25","value":0.221},{"year":2018,"date":"2018/04/27","value":0.032},{"year":2018,"date":"2018/04/30","value":0.244},{"year":2018,"date":"2018/05/03","value":0.152},{"year":2018,"date":"2018/05/07","value":0.556},{"year":2018,"date":"2018/05/10","value":0.602},{"year":2018,"date":"2018/05/12","value":0.567},{"year":2018,"date":"2018/05/15","value":0.546},{"year":2018,"date":"2018/05/19","value":0.522},{"year":2018,"date":"2018/05/22","value":0.369},{"year":2018,"date":"2018/05/25","value":0.465},{"year":2018,"date":"2018/05/28","value":0.472},{"year":2018,"date":"2018/06/02","value":0.45},{"year":2018,"date":"2018/06/06","value":0.518},{"year":2018,"date":"2018/06/09","value":0.5},{"year":2018,"date":"2018/06/12","value":0.448},{"year":2018,"date":"2018/06/15","value":0.579},{"year":2018,"date":"2018/06/18","value":0.552},{"year":2018,"date":"2018/06/21","value":0.508},{"year":2018,"date":"2018/06/23","value":0.399},{"year":2018,"date":"2018/06/26","value":0.514},{"year":2018,"date":"2018/07/03","value":0.388},{"year":2018,"date":"2018/07/05","value":0.263},{"year":2018,"date":"2018/07/09","value":0.411},{"year":2018,"date":"2018/07/12","value":0.472},{"year":2018,"date":"2018/07/15","value":0.427},{"year":2018,"date":"2018/07/18","value":0.345},{"year":2018,"date":"2018/07/21","value":0.411},{"year":2018,"date":"2018/07/24","value":0.438},{"year":2018,"date":"2018/07/30","value":0.591},{"year":2018,"date":"2018/08/02","value":0.327},{"year":2018,"date":"2018/08/05","value":0.57},{"year":2018,"date":"2018/08/10","value":0.166},{"year":2018,"date":"2018/08/13","value":0.376},{"year":2018,"date":"2018/08/16","value":0.396},{"year":2018,"date":"2018/08/19","value":0.235},{"year":2018,"date":"2018/08/22","value":0.273},{"year":2018,"date":"2018/08/26","value":0.292},
      {"year":2019,"date":"2019/05/04","value":0.032},{"year":2019,"date":"2019/05/07","value":0.101},{"year":2019,"date":"2019/05/10","value":0.068},{"year":2019,"date":"2019/05/13","value":0.149},{"year":2019,"date":"2019/05/16","value":0.456},{"year":2019,"date":"2019/05/19","value":0.441},{"year":2019,"date":"2019/05/22","value":0.301},{"year":2019,"date":"2019/05/25","value":0.381},{"year":2019,"date":"2019/05/28","value":0.579},{"year":2019,"date":"2019/05/31","value":0.283},{"year":2019,"date":"2019/06/03","value":0.429},{"year":2019,"date":"2019/06/06","value":0.456},{"year":2019,"date":"2019/06/09","value":0.532},{"year":2019,"date":"2019/06/12","value":0.462},{"year":2019,"date":"2019/06/15","value":0.528},{"year":2019,"date":"2019/06/18","value":0.403},{"year":2019,"date":"2019/06/21","value":0.325},{"year":2019,"date":"2019/06/24","value":0.337},{"year":2019,"date":"2019/06/27","value":0.432},{"year":2019,"date":"2019/06/30","value":0.409},{"year":2019,"date":"2019/07/03","value":0.163},{"year":2019,"date":"2019/07/06","value":0.486},{"year":2019,"date":"2019/07/11","value":0.496},{"year":2019,"date":"2019/07/14","value":0.391},{"year":2019,"date":"2019/07/17","value":0.285},{"year":2019,"date":"2019/07/20","value":0.297},{"year":2019,"date":"2019/07/23","value":0.543},{"year":2019,"date":"2019/07/26","value":0.379},{"year":2019,"date":"2019/07/30","value":0.355},{"year":2019,"date":"2019/08/02","value":0.492},{"year":2019,"date":"2019/08/05","value":0.273}
    ],
    "rbio_mean": [
      {"year":2015,"date":"2015/04/13","value":0.128},{"year":2015,"date":"2015/04/16","value":0.149},{"year":2015,"date":"2015/04/19","value":0.197},{"year":2015,"date":"2015/04/22","value":0.17},{"year":2015,"date":"2015/04/25","value":0.194},{"year":2015,"date":"2015/04/28","value":0.249},{"year":2015,"date":"2015/05/01","value":0.355},{"year":2015,"date":"2015/05/04","value":0.388},{"year":2015,"date":"2015/05/07","value":0.414},{"year":2015,"date":"2015/05/10","value":0.432},{"year":2015,"date":"2015/05/13","value":0.456},{"year":2015,"date":"2015/05/16","value":0.462},{"year":2015,"date":"2015/05/18","value":0.465},
      {"year":2016,"date":"2016/03/31","value":0.098},{"year":2016,"date":"2016/04/04","value":0.098},{"year":2016,"date":"2016/04/09","value":0.104},{"year":2016,"date":"2016/04/13","value":0.09},{"year":2016,"date":"2016/04/16","value":0.068},{"year":2016,"date":"2016/04/19","value":0.058},{"year":2016,"date":"2016/04/23","value":0.061},{"year":2016,"date":"2016/04/25","value":0.08},{"year":2016,"date":"2016/04/29","value":0.116},{"year":2016,"date":"2016/05/02","value":0.176},{"year":2016,"date":"2016/05/04","value":0.283},{"year":2016,"date":"2016/05/06","value":0.355},{"year":2016,"date":"2016/05/08","value":0.357},{"year":2016,"date":"2016/05/11","value":0.328},{"year":2016,"date":"2016/05/15","value":0.355},{"year":2016,"date":"2016/05/17","value":0.412},{"year":2016,"date":"2016/05/19","value":0.441},
      {"year":2017,"date":"2017/03/27","value":0.08},{"year":2017,"date":"2017/04/01","value":0.08},{"year":2017,"date":"2017/04/05","value":0.066},{"year":2017,"date":"2017/04/10","value":0.056},{"year":2017,"date":"2017/04/14","value":0.068},{"year":2017,"date":"2017/04/16","value":0.211},{"year":2017,"date":"2017/04/20","value":0.283},{"year":2017,"date":"2017/04/25","value":0.379},{"year":2017,"date":"2017/04/29","value":0.367},{"year":2017,"date":"2017/05/03","value":0.292},{"year":2017,"date":"2017/05/06","value":0.223},{"year":2017,"date":"2017/05/09","value":0.257},{"year":2017,"date":"2017/05/13","value":0.307},{"year":2017,"date":"2017/05/16","value":0.345},{"year":2017,"date":"2017/05/18","value":0.259},{"year":2017,"date":"2017/05/22","value":0.163},{"year":2017,"date":"2017/05/26","value":0.098},{"year":2017,"date":"2017/05/29","value":0.128},{"year":2017,"date":"2017/06/01","value":0.181},{"year":2017,"date":"2017/06/02","value":0.229},{"year":2017,"date":"2017/06/05","value":0.295},{"year":2017,"date":"2017/06/08","value":0.307},{"year":2017,"date":"2017/06/12","value":0.299},{"year":2017,"date":"2017/06/15","value":0.281},{"year":2017,"date":"2017/06/18","value":0.241},{"year":2017,"date":"2017/06/21","value":0.209},{"year":2017,"date":"2017/06/24","value":0.205},{"year":2017,"date":"2017/06/28","value":0.229},{"year":2017,"date":"2017/06/30","value":0.238},{"year":2017,"date":"2017/07/04","value":0.217},{"year":2017,"date":"2017/07/07","value":0.194},{"year":2017,"date":"2017/07/10","value":0.173},{"year":2017,"date":"2017/07/13","value":0.163},{"year":2017,"date":"2017/07/16","value":0.209},{"year":2017,"date":"2017/07/19","value":0.239},{"year":2017,"date":"2017/07/23","value":0.253},{"year":2017,"date":"2017/07/26","value":0.281},{"year":2017,"date":"2017/07/28","value":0.305},{"year":2017,"date":"2017/07/31","value":0.269},{"year":2017,"date":"2017/08/03","value":0.223},{"year":2017,"date":"2017/08/06","value":0.211},{"year":2017,"date":"2017/08/11","value":0.209},{"year":2017,"date":"2017/08/16","value":0.205},{"year":2017,"date":"2017/08/19","value":0.202},{"year":2017,"date":"2017/08/22","value":0.209},{"year":2017,"date":"2017/08/26","value":0.202},{"year":2017,"date":"2017/08/29","value":0.223},{"year":2017,"date":"2017/08/31","value":0.259},
      {"year":2018,"date":"2018/03/29","value":0.229},{"year":2018,"date":"2018/04/01","value":0.211},{"year":2018,"date":"2018/04/05","value":0.217},{"year":2018,"date":"2018/04/10","value":0.223},{"year":2018,"date":"2018/04/14","value":0.241},{"year":2018,"date":"2018/04/16","value":0.257},{"year":2018,"date":"2018/04/20","value":0.245},{"year":2018,"date":"2018/04/23","value":0.199},{"year":2018,"date":"2018/04/27","value":0.146},{"year":2018,"date":"2018/04/29","value":0.17},{"year":2018,"date":"2018/05/02","value":0.271},{"year":2018,"date":"2018/05/05","value":0.403},{"year":2018,"date":"2018/05/07","value":0.51},{"year":2018,"date":"2018/05/09","value":0.552},{"year":2018,"date":"2018/05/13","value":0.542},{"year":2018,"date":"2018/05/17","value":0.522},{"year":2018,"date":"2018/05/20","value":0.474},{"year":2018,"date":"2018/05/23","value":0.444},{"year":2018,"date":"2018/05/26","value":0.45},{"year":2018,"date":"2018/05/29","value":0.46},{"year":2018,"date":"2018/06/02","value":0.465},{"year":2018,"date":"2018/06/07","value":0.496},{"year":2018,"date":"2018/06/11","value":0.51},{"year":2018,"date":"2018/06/15","value":0.534},{"year":2018,"date":"2018/06/18","value":0.522},{"year":2018,"date":"2018/06/21","value":0.49},{"year":2018,"date":"2018/06/24","value":0.46},{"year":2018,"date":"2018/06/28","value":0.43},{"year":2018,"date":"2018/07/02","value":0.4},{"year":2018,"date":"2018/07/05","value":0.361},{"year":2018,"date":"2018/07/08","value":0.391},{"year":2018,"date":"2018/07/11","value":0.42},{"year":2018,"date":"2018/07/14","value":0.414},{"year":2018,"date":"2018/07/18","value":0.394},{"year":2018,"date":"2018/07/21","value":0.414},{"year":2018,"date":"2018/07/24","value":0.448},{"year":2018,"date":"2018/07/30","value":0.474},{"year":2018,"date":"2018/08/02","value":0.429},{"year":2018,"date":"2018/08/06","value":0.381},{"year":2018,"date":"2018/08/10","value":0.337},{"year":2018,"date":"2018/08/14","value":0.331},{"year":2018,"date":"2018/08/18","value":0.297},{"year":2018,"date":"2018/08/21","value":0.277},{"year":2018,"date":"2018/08/24","value":0.277},{"year":2018,"date":"2018/08/27","value":0.283},
      {"year":2019,"date":"2019/05/04","value":0.068},{"year":2019,"date":"2019/05/08","value":0.106},{"year":2019,"date":"2019/05/12","value":0.176},{"year":2019,"date":"2019/05/15","value":0.316},{"year":2019,"date":"2019/05/18","value":0.388},{"year":2019,"date":"2019/05/21","value":0.396},{"year":2019,"date":"2019/05/25","value":0.385},{"year":2019,"date":"2019/05/28","value":0.412},{"year":2019,"date":"2019/05/31","value":0.42},{"year":2019,"date":"2019/06/03","value":0.409},{"year":2019,"date":"2019/06/06","value":0.441},{"year":2019,"date":"2019/06/09","value":0.474},{"year":2019,"date":"2019/06/12","value":0.489},{"year":2019,"date":"2019/06/15","value":0.468},{"year":2019,"date":"2019/06/18","value":0.412},{"year":2019,"date":"2019/06/21","value":0.364},{"year":2019,"date":"2019/06/24","value":0.364},{"year":2019,"date":"2019/06/27","value":0.381},{"year":2019,"date":"2019/06/30","value":0.361},{"year":2019,"date":"2019/07/03","value":0.334},{"year":2019,"date":"2019/07/06","value":0.391},{"year":2019,"date":"2019/07/11","value":0.436},{"year":2019,"date":"2019/07/14","value":0.4},{"year":2019,"date":"2019/07/18","value":0.337},{"year":2019,"date":"2019/07/21","value":0.373},{"year":2019,"date":"2019/07/24","value":0.414},{"year":2019,"date":"2019/07/27","value":0.412},{"year":2019,"date":"2019/07/30","value":0.4},{"year":2019,"date":"2019/08/03","value":0.385},{"year":2019,"date":"2019/08/05","value":0.358}
    ]
  },
  "vconcat": [
    {
      "width": 543,
      "height": 33.5,
      "data": {"values": [
        {"phase": "Pre-bloom", "start": "2019/03/01", "end": "2019/04/16"},
        {"phase": "Bloom", "start": "2019/04/16", "end": "2019/06/17"},
        {"phase": "Post-bloom", "start": "2019/06/17", "end": "2019/09/01"}
      ]},
      "transform": [{"calculate": "(time(datum.start) + time(datum.end)) / 2", "as": "mid"}],
      "layer": [
        {
          "mark": {"type": "rule", "color": "#262626", "strokeWidth": 1.5},
          "encoding": {
            "x": {"field": "start", "timeUnit": "monthdate", "type": "temporal", "scale": {"domain": [{"month": 3, "date": 1}, {"month": 9, "date": 1}], "nice": false}, "axis": null},
            "x2": {"field": "end", "timeUnit": "monthdate"},
            "y": {"datum": -7.5, "type": "quantitative", "scale": {"domain": [0, 33.5], "nice": false, "zero": false}, "axis": null}
          }
        },
        {
          "mark": {"type": "rule", "color": "#262626", "strokeWidth": 1.5},
          "encoding": {
            "x": {"field": "start", "timeUnit": "monthdate", "type": "temporal", "axis": null},
            "y": {"datum": 4.5, "type": "quantitative", "axis": null},
            "y2": {"datum": -19.5}
          }
        },
        {
          "mark": {"type": "rule", "color": "#262626", "strokeWidth": 1.5},
          "encoding": {
            "x": {"field": "end", "timeUnit": "monthdate", "type": "temporal", "axis": null},
            "y": {"datum": 4.5, "type": "quantitative", "axis": null},
            "y2": {"datum": -19.5}
          }
        },
        {
          "mark": {"type": "text", "fontSize": 21, "baseline": "middle", "align": "center", "color": "#262626"},
          "encoding": {
            "x": {"field": "mid", "timeUnit": "monthdate", "type": "temporal", "axis": null},
            "y": {"datum": 15.5, "type": "quantitative", "axis": null},
            "text": {"field": "phase"}
          }
        }
      ]
    },
    {
      "width": 543,
      "height": 285,
      "layer": [
        {
          "data": {"name": "msa_mean"},
          "mark": {"type": "line", "strokeWidth": 2.5, "opacity": 0.8},
          "encoding": {
            "x": {"field": "date", "timeUnit": "monthdate", "type": "temporal", "scale": {"domain": [{"month": 3, "date": 1}, {"month": 9, "date": 1}], "nice": false},
                  "axis": {"orient": "top", "labels": false, "title": null, "values": [{"month": 3, "date": 1}, {"month": 4, "date": 1}, {"month": 5, "date": 1}, {"month": 6, "date": 1}, {"month": 7, "date": 1}, {"month": 8, "date": 1}]}},
            "y": {"field": "value", "type": "quantitative", "scale": {"domain": [0, 300], "nice": false},
                  "axis": {"orient": "right", "labels": false, "title": null, "values": [0, 100, 200, 300]}},
            "stroke": {"field": "year", "type": "nominal", "scale": {"domain": [2015, 2016, 2017, 2018, 2019], "range": ["#b97333", "#e020e0", "#3a9e3a", "#4a4af5", "#333333"]}, "legend": null}
          }
        },
        {
          "data": {"name": "msa_obs"},
          "mark": {"type": "point", "filled": false, "strokeWidth": 1.5, "size": 115},
          "encoding": {
            "x": {"field": "date", "timeUnit": "monthdate", "type": "temporal",
                  "axis": {"orient": "bottom", "labels": false, "title": null, "values": [{"month": 3, "date": 1}, {"month": 4, "date": 1}, {"month": 5, "date": 1}, {"month": 6, "date": 1}, {"month": 7, "date": 1}, {"month": 8, "date": 1}]}},
            "y": {"field": "value", "type": "quantitative",
                  "axis": {"orient": "left", "title": "MSA (ng m⁻³)", "values": [0, 100, 200, 300]}},
            "color": {"field": "year", "type": "nominal", "scale": {"domain": [2015, 2016, 2017, 2018, 2019], "range": ["#b97333", "#e020e0", "#3a9e3a", "#4a4af5", "#333333"]},
                      "legend": {"title": null, "orient": "top-right", "offset": 11, "padding": 8, "strokeColor": "#262626", "fillColor": "white", "labelFontSize": 22, "labelFont": "Liberation Sans", "symbolSize": 80, "symbolStrokeWidth": 1.5, "rowPadding": 3, "labelOffset": 9,
                                 "labelColor": {"expr": "scale('color', datum.value)"}}},
            "shape": {"field": "year", "type": "nominal", "scale": {"domain": [2015, 2016, 2017, 2018, 2019], "range": ["M-0.85,-0.85L0.85,0.85M-0.85,0.85L0.85,-0.85", "circle", "triangle-up", "square", "M-1.15,0L1.15,0M0,-1.15L0,1.15"]},
                      "legend": {"title": null, "orient": "top-right", "offset": 11, "padding": 8, "strokeColor": "#262626", "fillColor": "white", "labelFontSize": 22, "labelFont": "Liberation Sans", "symbolSize": 80, "symbolStrokeWidth": 1.5, "rowPadding": 3, "labelOffset": 9,
                                 "labelColor": {"expr": "scale('color', datum.value)"}}}
          }
        },
        {
          "data": {"values": [{}]},
          "mark": {"type": "text", "fontSize": 21, "align": "left", "baseline": "middle", "color": "#262626"},
          "encoding": {
            "x": {"datum": {"month": 3, "date": 7}, "type": "temporal", "axis": null},
            "y": {"datum": 276, "type": "quantitative", "axis": null},
            "text": {"value": "(a)"}
          }
        }
      ],
      "resolve": {"axis": {"x": "independent", "y": "independent"}}
    },
    {
      "width": 543,
      "height": 275,
      "layer": [
        {
          "data": {"name": "bio_mean"},
          "mark": {"type": "line", "strokeWidth": 2.5, "opacity": 0.8},
          "encoding": {
            "x": {"field": "date", "timeUnit": "monthdate", "type": "temporal", "scale": {"domain": [{"month": 3, "date": 1}, {"month": 9, "date": 1}], "nice": false},
                  "axis": {"orient": "top", "labels": false, "title": null, "values": [{"month": 3, "date": 1}, {"month": 4, "date": 1}, {"month": 5, "date": 1}, {"month": 6, "date": 1}, {"month": 7, "date": 1}, {"month": 8, "date": 1}]}},
            "y": {"field": "value", "type": "quantitative", "scale": {"domain": [0, 1500], "nice": false},
                  "axis": {"orient": "right", "labels": false, "title": null, "values": [0, 500, 1000, 1500]}},
            "stroke": {"field": "year", "type": "nominal", "scale": {"domain": [2015, 2016, 2017, 2018, 2019], "range": ["#b97333", "#e020e0", "#3a9e3a", "#4a4af5", "#333333"]}, "legend": null}
          }
        },
        {
          "data": {"name": "bio_obs"},
          "mark": {"type": "point", "filled": false, "strokeWidth": 1.5, "size": 115},
          "encoding": {
            "x": {"field": "date", "timeUnit": "monthdate", "type": "temporal",
                  "axis": {"orient": "bottom", "labels": false, "title": null, "values": [{"month": 3, "date": 1}, {"month": 4, "date": 1}, {"month": 5, "date": 1}, {"month": 6, "date": 1}, {"month": 7, "date": 1}, {"month": 8, "date": 1}]}},
            "y": {"field": "value", "type": "quantitative",
                  "axis": {"orient": "left", "title": "Bio-S-aerosol (ng m⁻³)", "format": "d", "values": [0, 500, 1000, 1500]}},
            "color": {"field": "year", "type": "nominal", "scale": {"domain": [2015, 2016, 2017, 2018, 2019], "range": ["#b97333", "#e020e0", "#3a9e3a", "#4a4af5", "#333333"]}, "legend": null},
            "shape": {"field": "year", "type": "nominal", "scale": {"domain": [2015, 2016, 2017, 2018, 2019], "range": ["M-0.85,-0.85L0.85,0.85M-0.85,0.85L0.85,-0.85", "circle", "triangle-up", "square", "M-1.15,0L1.15,0M0,-1.15L0,1.15"]}, "legend": null}
          }
        },
        {
          "data": {"values": [{}]},
          "mark": {"type": "text", "fontSize": 21, "align": "left", "baseline": "middle", "color": "#262626"},
          "encoding": {
            "x": {"datum": {"month": 3, "date": 7}, "type": "temporal", "axis": null},
            "y": {"datum": 1357, "type": "quantitative", "axis": null},
            "text": {"value": "(b)"}
          }
        }
      ],
      "resolve": {"axis": {"x": "independent", "y": "independent"}}
    },
    {
      "width": 543,
      "height": 279,
      "layer": [
        {
          "data": {"name": "rbio_mean"},
          "mark": {"type": "line", "strokeWidth": 2.5, "opacity": 0.8},
          "encoding": {
            "x": {"field": "date", "timeUnit": "monthdate", "type": "temporal", "scale": {"domain": [{"month": 3, "date": 1}, {"month": 9, "date": 1}], "nice": false},
                  "axis": {"orient": "top", "labels": false, "title": null, "values": [{"month": 3, "date": 1}, {"month": 4, "date": 1}, {"month": 5, "date": 1}, {"month": 6, "date": 1}, {"month": 7, "date": 1}, {"month": 8, "date": 1}]}},
            "y": {"field": "value", "type": "quantitative", "scale": {"domain": [0, 1], "nice": false},
                  "axis": {"orient": "right", "labels": false, "title": null, "values": [0, 0.2, 0.4, 0.6, 0.8, 1]}},
            "stroke": {"field": "year", "type": "nominal", "scale": {"domain": [2015, 2016, 2017, 2018, 2019], "range": ["#b97333", "#e020e0", "#3a9e3a", "#4a4af5", "#333333"]}, "legend": null}
          }
        },
        {
          "data": {"name": "rbio_obs"},
          "mark": {"type": "point", "filled": false, "strokeWidth": 1.5, "size": 115},
          "encoding": {
            "x": {"field": "date", "timeUnit": "monthdate", "type": "temporal",
                  "axis": {"orient": "bottom", "title": "Month", "titlePadding": 9, "labelPadding": 18, "labelOffset": 45, "labelFlush": false, "labelOverlap": false,
                           "labelExpr": "timeFormat(datum.value, '%B')",
                           "values": [{"month": 3, "date": 1}, {"month": 4, "date": 1}, {"month": 5, "date": 1}, {"month": 6, "date": 1}, {"month": 7, "date": 1}, {"month": 8, "date": 1}]}},
            "y": {"field": "value", "type": "quantitative",
                  "axis": {"orient": "left", "title": "R", "titlePadding": 20, "titleY": 156, "values": [0, 0.2, 0.4, 0.6, 0.8, 1], "labelExpr": "datum.value === 0 || datum.value === 1 ? format(datum.value, 'd') : format(datum.value, '.1f')"}},
            "color": {"field": "year", "type": "nominal", "scale": {"domain": [2015, 2016, 2017, 2018, 2019], "range": ["#b97333", "#e020e0", "#3a9e3a", "#4a4af5", "#333333"]}, "legend": null},
            "shape": {"field": "year", "type": "nominal", "scale": {"domain": [2015, 2016, 2017, 2018, 2019], "range": ["M-0.85,-0.85L0.85,0.85M-0.85,0.85L0.85,-0.85", "circle", "triangle-up", "square", "M-1.15,0L1.15,0M0,-1.15L0,1.15"]}, "legend": null}
          }
        },
        {
          "data": {"values": [{}]},
          "mark": {"type": "text", "fontSize": 21, "align": "left", "baseline": "middle", "color": "#262626"},
          "encoding": {
            "x": {"datum": {"month": 3, "date": 7}, "type": "temporal", "axis": null},
            "y": {"datum": 0.904, "type": "quantitative", "axis": null},
            "text": {"value": "(c)"}
          }
        },
        {
          "data": {"values": [{}]},
          "mark": {"type": "text", "fontSize": 14, "align": "center", "baseline": "middle", "angle": 270, "color": "#262626"},
          "encoding": {
            "x": {"datum": {"month": 2, "date": 10}, "type": "temporal", "axis": null},
            "y": {"datum": 0.505, "type": "quantitative", "axis": null},
            "text": {"value": "Bio"}
          }
        }
      ],
      "resolve": {"axis": {"x": "independent", "y": "independent"}}
    }
  ]
}
